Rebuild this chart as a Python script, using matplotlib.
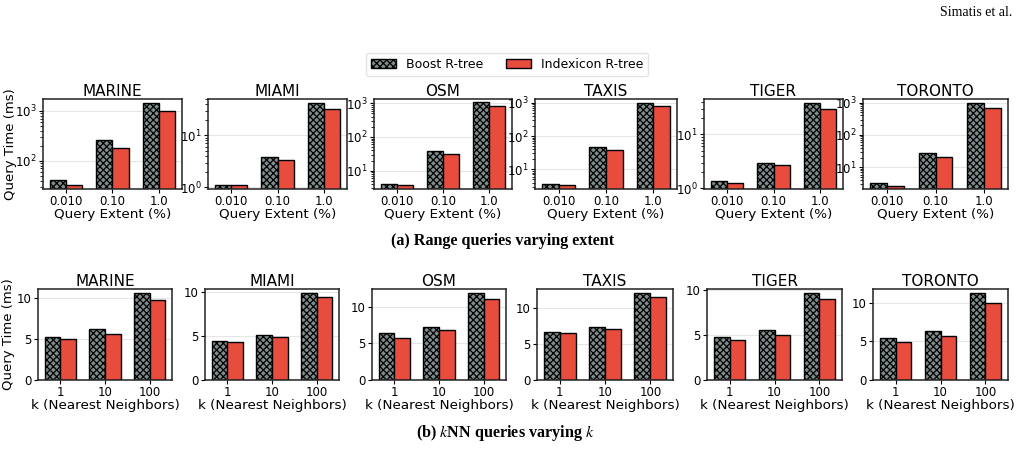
import matplotlib
matplotlib.use("Agg")
import matplotlib.pyplot as plt
import numpy as np

datasets = ["MARINE", "MIAMI", "OSM", "TAXIS", "TIGER", "TORONTO"]
range_labels = ["0.010", "0.10", "1.0"]
knn_labels = ["1", "10", "100"]

# Range queries (ms), per dataset: [0.010, 0.10, 1.0]
range_boost = {
    "MARINE": [41, 260, 1430],
    "MIAMI": [1.09, 3.78, 41],
    "OSM": [4.0, 38.5, 1120],
    "TAXIS": [3.6, 47, 960],
    "TIGER": [1.36, 2.98, 37.5],
    "TORONTO": [3.2, 28, 960],
}
range_idx = {
    "MARINE": [32, 183, 980],
    "MIAMI": [1.09, 3.35, 31.6],
    "OSM": [3.7, 30.7, 850],
    "TAXIS": [3.3, 37, 770],
    "TIGER": [1.24, 2.70, 29.8],
    "TORONTO": [2.7, 21, 660],
}
range_ylim = {
    "MARINE": (27, 1740),
    "MIAMI": (0.93, 50),
    "OSM": (2.86, 1340),
    "TAXIS": (2.57, 1290),
    "TIGER": (0.97, 45),
    "TORONTO": (2.14, 1290),
}

# kNN queries (ms), per dataset: [k=1, 10, 100]
knn_boost = {
    "MARINE": [5.17, 6.14, 10.53],
    "MIAMI": [4.45, 5.17, 9.89],
    "OSM": [6.34, 7.15, 11.8],
    "TAXIS": [6.68, 7.33, 12.03],
    "TIGER": [4.78, 5.52, 9.63],
    "TORONTO": [5.39, 6.3, 11.25],
}
knn_idx = {
    "MARINE": [5.0, 5.57, 9.72],
    "MIAMI": [4.3, 4.94, 9.46],
    "OSM": [5.74, 6.83, 10.99],
    "TAXIS": [6.5, 7.1, 11.5],
    "TIGER": [4.41, 5.04, 9.04],
    "TORONTO": [4.87, 5.69, 10.05],
}

W, H = 1018, 449
fig = plt.figure(figsize=(W / 100, H / 100), dpi=100)

def add_ax(x0, x1, y0, y1):
    return fig.add_axes([x0 / W, 1 - y1 / H, (x1 - x0) / W, (y1 - y0) / H])

top_x = [(43, 182), (208, 347), (374, 512), (535, 677), (704, 843), (863, 1008)]
bot_x = [(38, 172), (205, 339), (372, 506), (537, 673), (707, 842), (873, 1008)]

boost_color = "#7f8c8d"
idx_color = "#e74c3c"
bw = 0.35

plt.rcParams['hatch.linewidth'] = 0.9
plt.rcParams['hatch.color'] = 'black'

def style(ax):
    for s in ax.spines.values():
        s.set_linewidth(1.1)
        s.set_color("#222222")
    ax.grid(axis="y", color="#e6e6e6", linewidth=0.8)
    ax.set_axisbelow(True)
    ax.tick_params(labelsize=8.5, length=3, width=0.8, pad=1.5)
    ax.set_xlim(-0.5, 2.5)

x = np.arange(3)
handles = None
for i, name in enumerate(datasets):
    ax = add_ax(top_x[i][0], top_x[i][1], 99, 189)
    b1 = ax.bar(x - bw / 2, range_boost[name], bw, color=boost_color, edgecolor="black",
                hatch="xxxxx", linewidth=1.0)
    b2 = ax.bar(x + bw / 2, range_idx[name], bw, color=idx_color, edgecolor="black", linewidth=1.0)
    ax.set_yscale("log")
    ax.set_ylim(*range_ylim[name])
    ax.set_xticks(x)
    ax.set_xticklabels(range_labels)
    ax.set_title(name, fontsize=11, pad=2)
    ax.set_xlabel("Query Extent (%)", fontsize=9.7, labelpad=0)
    style(ax)
    if i == 0:
        ax.set_ylabel("Query Time (ms)", fontsize=9.5, labelpad=-1)
        handles = (b1, b2)

    ax2 = add_ax(bot_x[i][0], bot_x[i][1], 289, 380)
    ax2.bar(x - bw / 2, knn_boost[name], bw, color=boost_color, edgecolor="black",
            hatch="xxxxx", linewidth=1.0)
    ax2.bar(x + bw / 2, knn_idx[name], bw, color=idx_color, edgecolor="black", linewidth=1.0)
    ax2.set_xticks(x)
    ax2.set_xticklabels(knn_labels)
    ax2.set_title(name, fontsize=11, pad=2)
    ax2.set_xlabel("k (Nearest Neighbors)", fontsize=9.7, labelpad=0)
    style(ax2)
    if i == 0:
        ax2.set_ylabel("Query Time (ms)", fontsize=9.5, labelpad=1)

fig.legend(handles, ["Boost R-tree", "Indexicon R-tree"], loc="center",
           bbox_to_anchor=(507 / W, 1 - 64 / H), ncol=2, fontsize=9,
           frameon=True, edgecolor="#dddddd", columnspacing=1.8, handlelength=2.0)

plt.rcParams['mathtext.fontset'] = 'stix'
fig.text(503 / W, 1 - 241 / H, "(a) Range queries varying extent", ha="center", va="center",
         fontsize=11.6, fontweight="bold", family="Liberation Serif")
fig.text(505 / W, 1 - 433 / H, r"(b) $k$NN queries varying $k$", ha="center", va="center",
         fontsize=11.6, fontweight="bold", family="Liberation Serif")
fig.text(1012 / W, 1 - 12 / H, "Simatis et al.", ha="right", va="center",
         fontsize=10, family="Liberation Serif")

fig.savefig("out.png", dpi=100)
